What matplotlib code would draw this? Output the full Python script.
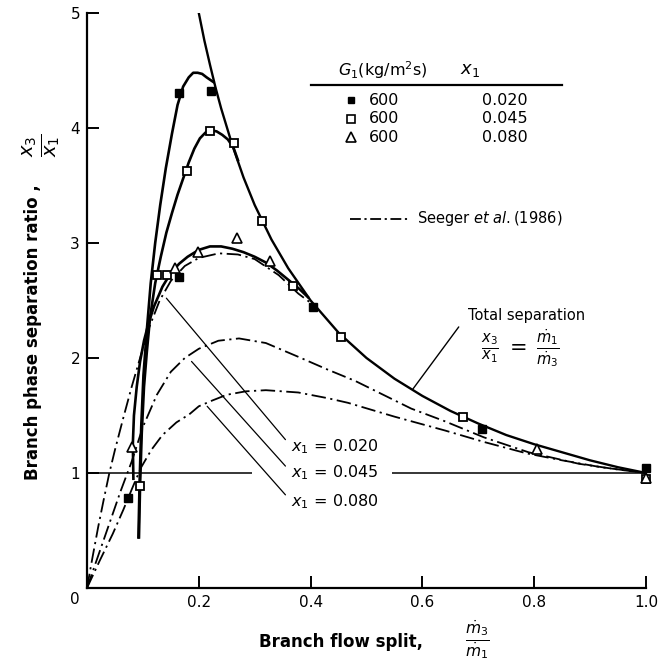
import numpy as np
import matplotlib.pyplot as plt

plt.rcParams['font.family'] = ['DejaVu Sans']
plt.rcParams['mathtext.fontset'] = 'dejavusans'

# measured points, G1 = 600 kg/m2s
filled_x = [0.073, 0.165, 0.222, 0.165, 0.405, 0.707, 1.0]
filled_y = [0.78, 4.30, 4.32, 2.70, 2.44, 1.38, 1.04]
open_x = [0.094, 0.126, 0.144, 0.179, 0.22, 0.263, 0.313, 0.369, 0.455, 0.673, 1.0]
open_y = [0.89, 2.72, 2.72, 3.63, 3.97, 3.87, 3.19, 2.63, 2.18, 1.49, 0.95]
tri_x = [0.080, 0.158, 0.199, 0.268, 0.327, 0.805, 1.0]
tri_y = [1.23, 2.78, 2.92, 3.04, 2.84, 1.21, 0.96]

# total separation curve x3/x1 = m1/m3
total_x = [0.2, 0.21, 0.22, 0.23, 0.24, 0.26, 0.28, 0.30, 0.33, 0.36, 0.40, 0.45,
           0.50, 0.55, 0.60, 0.65, 0.70, 0.75, 0.80, 0.85, 0.90, 0.95, 1.0]
total_y = [5.0, 4.76, 4.55, 4.35, 4.17, 3.85, 3.57, 3.33, 3.03, 2.78, 2.5, 2.22,
           2.0, 1.82, 1.67, 1.54, 1.43, 1.33, 1.25, 1.18, 1.11, 1.05, 1.0]

# fitted curves through the data
fit020_x = [0.092, 0.094, 0.097, 0.101, 0.107, 0.114, 0.122, 0.131, 0.141, 0.152, 0.162,
            0.172, 0.182, 0.19, 0.198, 0.206, 0.214, 0.22, 0.226]
fit020_y = [0.44, 0.9, 1.4, 1.85, 2.24, 2.65, 3.0, 3.33, 3.65, 3.95, 4.2,
            4.36, 4.44, 4.48, 4.48, 4.47, 4.44, 4.42, 4.40]
fit045_x = [0.093, 0.095, 0.098, 0.102, 0.107, 0.113, 0.122, 0.132, 0.142, 0.152, 0.162,
            0.172, 0.182, 0.192, 0.202, 0.212, 0.222, 0.232, 0.242, 0.252, 0.262, 0.27]
fit045_y = [0.44, 0.9, 1.35, 1.75, 2.05, 2.36, 2.65, 2.88, 3.09, 3.26, 3.42,
            3.56, 3.7, 3.82, 3.91, 3.96, 3.98, 3.97, 3.94, 3.9, 3.83, 3.72]
fit080_x = [0.083, 0.082, 0.084, 0.089, 0.095, 0.102, 0.11, 0.12, 0.135, 0.15, 0.165, 0.18,
            0.2, 0.22, 0.24, 0.26, 0.28, 0.3, 0.32, 0.34, 0.36, 0.38, 0.395]
fit080_y = [0.95, 1.25, 1.5, 1.75, 1.97, 2.15, 2.3, 2.45, 2.62, 2.74, 2.82, 2.88,
            2.94, 2.97, 2.97, 2.95, 2.92, 2.88, 2.83, 2.76, 2.68, 2.6, 2.53]

# Seeger et al. (1986)
seeg020_x = [0, 0.01, 0.02, 0.03, 0.04, 0.05, 0.065, 0.08, 0.095, 0.11, 0.13, 0.15, 0.175,
             0.2, 0.236, 0.27, 0.3, 0.343, 0.378, 0.4]
seeg020_y = [0, 0.27, 0.53, 0.77, 1.0, 1.2, 1.48, 1.75, 2.0, 2.25, 2.5, 2.67, 2.8,
             2.87, 2.91, 2.9, 2.86, 2.72, 2.56, 2.48]
seeg045_x = [0, 0.02, 0.04, 0.06, 0.08, 0.1, 0.125, 0.15, 0.175, 0.2, 0.235, 0.272, 0.32,
             0.378, 0.43, 0.48, 0.53, 0.58, 0.64, 0.71, 0.79, 0.88, 0.95, 1.0]
seeg045_y = [0, 0.28, 0.56, 0.84, 1.1, 1.4, 1.68, 1.88, 2.0, 2.08, 2.15, 2.17, 2.13,
             2.01, 1.9, 1.8, 1.68, 1.56, 1.45, 1.31, 1.18, 1.08, 1.03, 1.0]
seeg080_x = [0, 0.023, 0.046, 0.065, 0.082, 0.097, 0.115, 0.135, 0.16, 0.183, 0.2, 0.224,
             0.25, 0.284, 0.32, 0.378, 0.431, 0.467, 0.55, 0.64, 0.71, 0.787, 0.85, 0.92, 1.0]
seeg080_y = [0, 0.24, 0.47, 0.68, 0.88, 1.05, 1.2, 1.33, 1.44, 1.51, 1.58, 1.63,
             1.68, 1.71, 1.72, 1.70, 1.65, 1.61, 1.49, 1.37, 1.27, 1.17, 1.11, 1.05, 1.0]

x_ticks = [0.2, 0.4, 0.6, 0.8, 1.0]
x_ticklabels = ['0.2', '0.4', '0.6', '0.8', '1.0']
y_ticks = [1, 2, 3, 4, 5]
quality_labels = ['0.020', '0.045', '0.080']

fig = plt.figure(figsize=(6.6, 6.65), dpi=100)
ax = fig.add_axes([0.1318, 0.1158, 0.847, 0.8647])
ax.set_xlim(0, 1.0)
ax.set_ylim(0, 5)
for s in ['top', 'right']:
    ax.spines[s].set_visible(False)
for s in ['left', 'bottom']:
    ax.spines[s].set_linewidth(1.6)
ax.set_xticks(x_ticks)
ax.set_xticklabels(x_ticklabels)
ax.set_yticks(y_ticks)
ax.tick_params(direction='in', length=8.5, width=1.4, labelsize=11, pad=5)
ax.text(-0.022, -0.1, '0', fontsize=11, ha='center', va='center', clip_on=False)

# reference line x3/x1 = 1 (broken by the 0.045 label)
ax.hlines([1.0, 1.0], [0, 0.545], [0.295, 1.0], color='black', lw=1.1)

dashdot = (0, (8, 2.5, 1.2, 2.5))
for sx, sy in [(seeg020_x, seeg020_y), (seeg045_x, seeg045_y), (seeg080_x, seeg080_y)]:
    ax.plot(sx, sy, color='black', lw=1.3, linestyle=dashdot)

ax.plot(total_x, total_y, color='black', lw=1.7)
for fx, fy in [(fit020_x, fit020_y), (fit045_x, fit045_y), (fit080_x, fit080_y)]:
    ax.plot(fx, fy, color='black', lw=1.9)

ax.plot(filled_x, filled_y, 's', ms=5.5, mfc='black', mec='black', clip_on=False)
ax.plot(open_x, open_y, 's', ms=6.3, mfc='white', mec='black', mew=1.3, clip_on=False)
ax.plot(tri_x, tri_y, '^', ms=7, mfc='white', mec='black', mew=1.2, clip_on=False)

# x1 labels with leader lines
label_y = [1.23, 1.0, 0.75]
leader_tip = [(0.142, 2.52), (0.187, 1.97), (0.215, 1.58)]
for lab, ly, tip in zip(quality_labels, label_y, leader_tip):
    ax.annotate('', xy=tip, xytext=(0.355, ly + 0.06),
                arrowprops=dict(arrowstyle='-', color='black', lw=0.9, shrinkA=0, shrinkB=0))
    ax.text(0.365, ly, r'$x_1$ = ' + lab, fontsize=11.5, ha='left', va='center')

# total separation note
ax.text(0.787, 2.37, 'Total separation', fontsize=10.5, ha='center', va='center')
ax.text(0.775, 2.08, r'$\frac{x_3}{x_1}\;=\;\frac{\dot{m}_1}{\dot{m}_3}$', fontsize=15,
        ha='center', va='center')
ax.annotate('', xy=(0.583, 1.73), xytext=(0.665, 2.27),
            arrowprops=dict(arrowstyle='-', color='black', lw=1.0, shrinkA=0, shrinkB=0))

# legend table
ax.text(0.529, 4.50, r'$G_1$(kg/m$^2$s)', fontsize=11.5, ha='center', va='center')
ax.text(0.685, 4.50, r'$x_1$', fontsize=13, ha='center', va='center')
ax.plot([0.40, 0.849], [4.37, 4.37], color='black', lw=1.6)
row_y = [4.24, 4.08, 3.92]
row_marker = [dict(marker='s', ms=5, mfc='black', mec='black'),
              dict(marker='s', ms=5.5, mfc='white', mec='black', mew=1.2),
              dict(marker='^', ms=6.5, mfc='white', mec='black', mew=1.2)]
for ry, mk, lab in zip(row_y, row_marker, quality_labels):
    ax.plot([0.472], [ry], linestyle='none', **mk)
    ax.text(0.505, ry, '600', fontsize=11.5, ha='left', va='center')
    ax.text(0.748, ry, lab, fontsize=11.5, ha='center', va='center')

ax.plot([0.471, 0.574], [3.21, 3.21], color='black', lw=1.3, linestyle=(0, (6, 2, 1.2, 2)))
ax.text(0.59, 3.21, r'Seeger $et\ al.$(1986)', fontsize=10.5, ha='left', va='center')

# axis titles
fig.text(0.05, 0.50, 'Branch phase separation ratio ,', rotation=90, fontsize=12,
         fontweight='bold', ha='center', va='center')
fig.text(0.063, 0.782, r'$\frac{x_3}{x_1}$', rotation=90, fontsize=20, ha='center', va='center')
fig.text(0.517, 0.035, 'Branch flow split,', fontsize=12, fontweight='bold',
         ha='center', va='center')
fig.text(0.723, 0.038, r'$\frac{\dot{m}_3}{\dot{m}_1}$', fontsize=16, ha='center', va='center')

fig.savefig('out.png', dpi=100)
